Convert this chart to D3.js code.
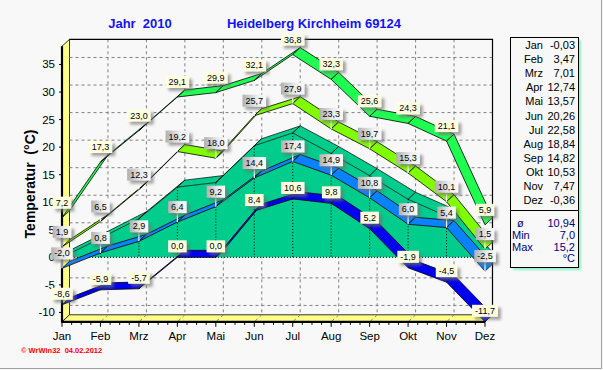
<!DOCTYPE html>
<html>
<head>
<meta charset="utf-8">
<script src="https://cdn.jsdelivr.net/npm/d3@7"></script>
<style>
  body { margin: 0; background: #f8f8f8; }
  svg { display: block; font-family: "Liberation Sans", Arial, sans-serif; }
</style>
</head>
<body>
<script>
const months = ['Jan', 'Feb', 'Mrz', 'Apr', 'Mai', 'Jun', 'Jul', 'Aug', 'Sep', 'Okt', 'Nov', 'Dez'];
const absMax = [7.2, 17.3, 23.0, 29.1, 29.9, 32.1, 36.8, 32.3, 25.6, 24.3, 21.1, 5.9];
const meanMax = [1.9, 6.5, 12.3, 19.2, 18.0, 25.7, 27.9, 23.3, 19.7, 15.3, 10.1, 1.5];
const meanTemp = [-0.03, 3.47, 7.01, 12.74, 13.57, 20.26, 22.58, 18.84, 14.82, 10.53, 7.47, -0.36];
const meanMin = [-2.0, 0.8, 2.9, 6.4, 9.2, 14.4, 17.4, 14.9, 10.8, 6.0, 5.4, -2.5];
const absMin = [-8.6, -5.9, -5.7, 0.0, 0.0, 8.4, 10.6, 9.8, 5.2, -1.9, -4.5, -11.7];
const yTicks = [-10, -5, 0, 5, 10, 15, 20, 25, 30, 35];
const statNames = ['ø', 'Min', 'Max'];
const statValues = ['10,94', '7,0', '15,2'];

const width = 603, height = 370;
const dx = 7.5, dy = 7; // 3d depth
const x = d3.scalePoint().domain(months).range([62, 485]);
const y = d3.scaleLinear().domain([-11.7, 38.3]).range([321.8, 46.3]);
const de = d3.formatLocale({ decimal: ',', thousands: '.', grouping: [3], currency: ['', ' €'], minus: '-' });
const fmt1 = de.format('.1f');
const fmt2 = de.format('.2f');

const svg = d3.select('body').append('svg')
  .attr('width', width)
  .attr('height', height);

const defs = svg.append('defs');
const shadow = defs.append('filter').attr('id', 'shadow')
  .attr('x', '-30%').attr('y', '-30%').attr('width', '180%').attr('height', '180%');
shadow.append('feDropShadow')
  .attr('dx', 3).attr('dy', 3).attr('stdDeviation', 1.4)
  .attr('flood-color', '#707070').attr('flood-opacity', 0.65);
const grayGrad = defs.append('linearGradient').attr('id', 'grayGrad');
grayGrad.append('stop').attr('offset', '0%').attr('stop-color', '#b0b0b0');
grayGrad.append('stop').attr('offset', '60%').attr('stop-color', '#ececec');
grayGrad.append('stop').attr('offset', '100%').attr('stop-color', '#fafafa');
const tableShadow = defs.append('filter').attr('id', 'tshadow');
tableShadow.append('feGaussianBlur').attr('stdDeviation', 1.2);

svg.append('rect').attr('width', width).attr('height', height).attr('fill', '#f8f8f8');
svg.append('path')
  .attr('d', 'M601.5,0 V368.5 H0')
  .attr('fill', 'none').attr('stroke', '#a0a0a0');

// titles
svg.append('text')
  .attr('x', 140).attr('y', 28)
  .attr('text-anchor', 'middle')
  .attr('font-size', '13px').attr('font-weight', 'bold')
  .attr('fill', '#1414f0')
  .attr('xml:space', 'preserve')
  .text('Jahr  2010');
svg.append('text')
  .attr('x', 314).attr('y', 28)
  .attr('text-anchor', 'middle')
  .attr('font-size', '13px').attr('font-weight', 'bold')
  .attr('fill', '#1414f0')
  .text('Heidelberg Kirchheim 69124');

svg.append('text')
  .attr('transform', 'translate(35,184) rotate(-90)')
  .attr('text-anchor', 'middle')
  .attr('font-size', '14px').attr('font-weight', 'bold')
  .attr('xml:space', 'preserve')
  .text('Temperatur  (°C)');

// walls
const x0 = x('Jan'), x1 = x('Dez');
const yTop = y.range()[1], yBot = y.range()[0];
const yZero = y(0);

svg.append('rect')
  .attr('x', x0 + dx).attr('y', yTop - dy)
  .attr('width', x1 - x0).attr('height', yBot - yTop)
  .attr('fill', '#f8f8f8');

// left wall and floor
svg.append('path')
  .attr('d', `M${x0},${yTop} L${x0 + dx},${yTop - dy} L${x0 + dx},${yBot - dy} L${x0},${yBot} Z`)
  .attr('fill', '#ffff88').attr('stroke', '#000').attr('stroke-width', 0.8);
svg.append('path')
  .attr('d', `M${x0},${yBot} L${x0 + dx},${yBot - dy} L${x1 + dx},${yBot - dy} L${x1},${yBot} Z`)
  .attr('fill', '#ffff88').attr('stroke', '#000').attr('stroke-width', 0.8);

const grid = svg.append('g')
  .attr('stroke', '#808080').attr('stroke-dasharray', '3,3').attr('stroke-width', 1);
yTicks.forEach(v => {
  grid.append('line')
    .attr('x1', x0 + dx).attr('x2', x1 + dx)
    .attr('y1', y(v) - dy).attr('y2', y(v) - dy);
});
months.slice(1, -1).forEach(m => {
  grid.append('line')
    .attr('x1', x(m) + dx).attr('x2', x(m) + dx)
    .attr('y1', yTop - dy).attr('y2', yBot - dy);
  grid.append('line')
    .attr('x1', x(m) + dx).attr('x2', x(m))
    .attr('y1', yBot - dy).attr('y2', yBot);
});

svg.append('path')
  .attr('d', `M${x0 + dx},${yTop - dy} H${x1 + dx} V${yBot - dy}`)
  .attr('fill', 'none').attr('stroke', '#000').attr('stroke-width', 1.2);
svg.append('line')
  .attr('x1', x0).attr('x2', x0).attr('y1', yTop).attr('y2', yBot + 1)
  .attr('stroke', '#000').attr('stroke-width', 2.2);
svg.append('line')
  .attr('x1', x0).attr('x2', x1).attr('y1', yBot).attr('y2', yBot)
  .attr('stroke', '#000').attr('stroke-width', 2.2);

// y axis labels and ticks
yTicks.forEach(v => {
  svg.append('line')
    .attr('x1', x0 - 3).attr('x2', x0).attr('y1', y(v)).attr('y2', y(v))
    .attr('stroke', '#000');
  svg.append('text')
    .attr('x', 55).attr('y', y(v) + 4)
    .attr('text-anchor', 'end')
    .attr('font-size', '11.5px')
    .text(v);
});

// x axis ticks and labels
const step = x.step() / 4;
for (let i = 0; i <= 44; i++) {
  svg.append('line')
    .attr('x1', x0 + i * step).attr('x2', x0 + i * step)
    .attr('y1', yBot).attr('y2', yBot + (i % 4 === 0 ? 5 : 3))
    .attr('stroke', '#000');
}
months.forEach(m => {
  svg.append('text')
    .attr('x', x(m)).attr('y', 340)
    .attr('text-anchor', 'middle')
    .attr('font-size', '11.5px')
    .text(m);
});

// mean temperature 3d area
const area = svg.append('g');
const pts = meanTemp.map((v, i) => [x(months[i]), y(v)]);
area.append('path')
  .attr('d', 'M' + pts.map(p => p.join(',')).join('L') + `L${x1},${yZero}L${x0},${yZero}Z`)
  .attr('fill', '#00cc8c');
for (let i = 0; i < pts.length - 1; i++) {
  const [ax, ay] = pts[i], [bx, by] = pts[i + 1];
  area.append('path')
    .attr('d', `M${ax},${ay}L${bx},${by}L${bx + dx},${by - dy}L${ax + dx},${ay - dy}Z`)
    .attr('fill', '#00cc8c').attr('stroke', '#000').attr('stroke-width', 0.7)
    .attr('stroke-linejoin', 'round');
}
months.slice(1, -1).forEach((m, i) => {
  area.append('line')
    .attr('x1', x(m)).attr('x2', x(m))
    .attr('y1', y(meanTemp[i + 1])).attr('y2', yZero)
    .attr('stroke', '#000').attr('stroke-dasharray', '1,2');
});
area.append('line')
  .attr('x1', x0).attr('x2', x1).attr('y1', yZero).attr('y2', yZero)
  .attr('stroke', '#000').attr('stroke-dasharray', '1,2');

// ribbons
const seriesList = [
  { values: absMax, color: '#1eff50', label: 'yellow', gap: 9 },
  { values: meanMax, color: '#80ff00', label: 'gray', gap: 9 },
  { values: meanMin, color: '#0a82ff', label: 'gray', gap: 9 },
  { values: absMin, color: '#0000f0', label: 'yellow', gap: 5 }
];

seriesList.forEach(s => {
  const g = svg.append('g');
  for (let i = 0; i < s.values.length - 1; i++) {
    const ax = x(months[i]), ay = y(s.values[i]);
    const bx = x(months[i + 1]), by = y(s.values[i + 1]);
    g.append('path')
      .attr('d', `M${ax},${ay}L${bx},${by}L${bx + dx},${by - dy}L${ax + dx},${ay - dy}Z`)
      .attr('fill', s.color).attr('stroke', '#000').attr('stroke-width', 0.8)
      .attr('stroke-linejoin', 'round');
  }
});

// value labels
const labels = svg.append('g').attr('font-size', '9px');
seriesList.forEach(s => {
  s.values.forEach((v, i) => {
    const px = x(months[i]), py = y(v);
    const bottom = py - s.gap;
    if (s.label === 'gray') {
      labels.append('line')
        .attr('x1', px).attr('x2', px).attr('y1', bottom).attr('y2', py)
        .attr('stroke', '#fff').attr('stroke-width', 1.2);
    }
    const t = labels.append('text')
      .attr('x', px).attr('y', bottom - 3)
      .attr('text-anchor', 'middle')
      .text(fmt1(v));
    const w = t.node().getComputedTextLength() + 6;
    labels.insert('rect', () => t.node())
      .attr('x', px - w / 2).attr('y', bottom - 12)
      .attr('width', w).attr('height', 12)
      .attr('fill', s.label === 'gray' ? 'url(#grayGrad)' : '#ffffe0')
      .attr('filter', 'url(#shadow)');
  });
});

// summary table
const tx = 510, ty = 37, tw = 68, th = 230;
svg.append('rect')
  .attr('x', tx + 3).attr('y', ty + 3).attr('width', tw).attr('height', th)
  .attr('fill', '#8ff0cc').attr('filter', 'url(#tshadow)');
svg.append('rect')
  .attr('x', tx + 0.5).attr('y', ty + 0.5).attr('width', tw).attr('height', th)
  .attr('fill', '#f8f8f8').attr('stroke', '#000');
svg.append('line')
  .attr('x1', tx).attr('x2', tx + tw).attr('y1', 210.5).attr('y2', 210.5)
  .attr('stroke', '#000');
const table = svg.append('g').attr('font-size', '11px');
months.forEach((m, i) => {
  const ry = 49 + i * 14.1;
  table.append('text').attr('x', 543).attr('y', ry).attr('text-anchor', 'end').text(m);
  table.append('text').attr('x', 575).attr('y', ry).attr('text-anchor', 'end').text(fmt2(meanTemp[i]));
});
statNames.forEach((n, i) => {
  const ry = 227 + i * 11.8;
  table.append('text')
    .attr('x', n === 'ø' ? 517 : 512).attr('y', ry)
    .attr('fill', '#000080').text(n);
  table.append('text')
    .attr('x', 575).attr('y', ry).attr('text-anchor', 'end')
    .attr('fill', '#000080').text(statValues[i]);
});
table.append('text')
  .attr('x', 575).attr('y', 262).attr('text-anchor', 'end')
  .attr('fill', '#000080').text('°C');

// footer
svg.append('text')
  .attr('x', 21).attr('y', 353)
  .attr('font-size', '7.5px').attr('font-weight', 'bold')
  .attr('fill', '#ff0000')
  .attr('xml:space', 'preserve')
  .text('© WrWin32  04.02.2012');
</script>
</body>
</html>
